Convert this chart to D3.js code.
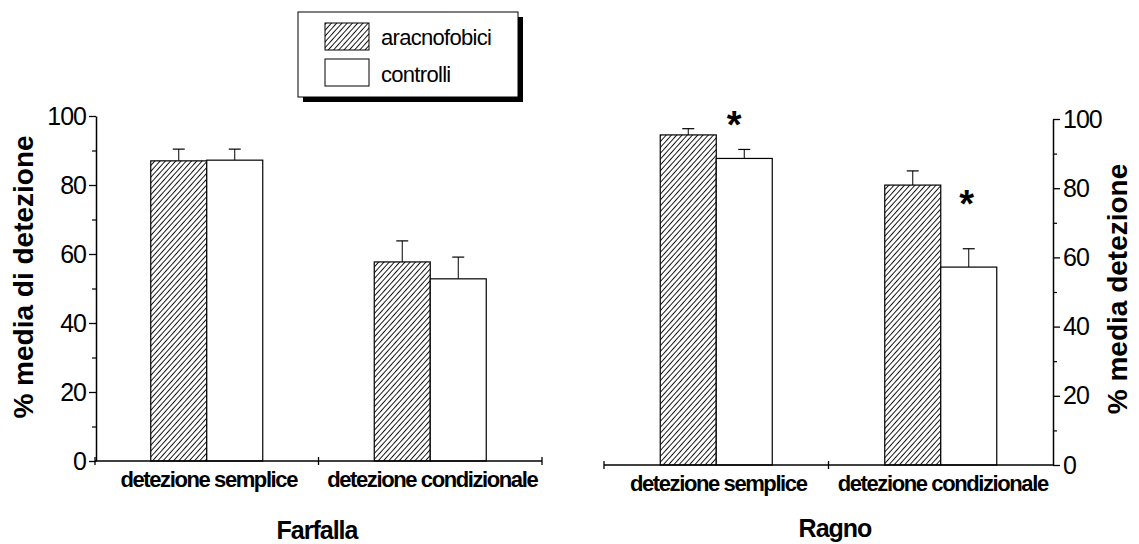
<!DOCTYPE html>
<html>
<head>
<meta charset="utf-8">
<script src="https://cdn.jsdelivr.net/npm/d3@7"></script>
<style>
  html, body { margin: 0; padding: 0; background: #fff; }
  svg { display: block; font-family: "Liberation Sans", Arial, sans-serif; }
</style>
</head>
<body>
<svg id="chart" width="1139" height="544"></svg>
<script>
// ---- data ----
const categories = ["detezione semplice", "detezione condizionale"];
const series = ["aracnofobici", "controlli"];
const farfallaMeans = [[87.0, 87.2], [57.7, 52.8]];   // [category][series]
const farfallaErrors = [[3.4, 3.2], [6.1, 6.3]];
const ragnoMeans = [[95.4, 88.6], [80.9, 57.2]];
const ragnoErrors = [[1.8, 2.6], [4.1, 5.3]];
const ragnoStars = [101, 78];          // value height of the "*" markers (per category)
const yTicks = [0, 20, 40, 60, 80, 100];
const yMinorTicks = [10, 30, 50, 70, 90];
const panelTitles = ["Farfalla", "Ragno"];
const yLabels = ["% media di detezione", "% media detezione"];

const svg = d3.select("#chart");
svg.append("rect").attr("width", 1139).attr("height", 544).attr("fill", "#fff");

// hatch pattern
const defs = svg.append("defs");
const hs = 3.9;
const pat = defs.append("pattern")
  .attr("id", "hatch").attr("patternUnits", "userSpaceOnUse")
  .attr("width", hs).attr("height", hs)
  .attr("patternTransform", "rotate(42)");
pat.append("rect").attr("width", hs).attr("height", hs).attr("fill", "#fff");
pat.append("line").attr("x1", 0.5).attr("y1", 0).attr("x2", 0.5).attr("y2", hs)
  .attr("stroke", "#000").attr("stroke-width", 0.9);

const fills = { aracnofobici: "url(#hatch)", controlli: "#fff" };
const barW = 56;

function drawPanel(cfg) {
  const g = svg.append("g");
  const y = d3.scaleLinear().domain([0, 100]).range([cfg.y0, cfg.y100]);
  const x = d3.scaleBand().domain(categories).range([cfg.xl, cfg.xr]);
  const xs = d3.scaleBand().domain(series).range([-barW, barW]);

  // bars
  categories.forEach((c, ci) => {
    const cx = x(c) + x.bandwidth() / 2;
    series.forEach((s, si) => {
      const v = cfg.means[ci][si], e = cfg.errors[ci][si];
      const bx = cx + xs(s);
      const bc = bx + xs.bandwidth() / 2;
      // error bar
      g.append("line").attr("x1", bc).attr("x2", bc)
        .attr("y1", y(v)).attr("y2", y(v + e))
        .attr("stroke", "#000").attr("stroke-width", 1);
      g.append("line").attr("x1", bc - 6).attr("x2", bc + 6)
        .attr("y1", y(v + e)).attr("y2", y(v + e))
        .attr("stroke", "#000").attr("stroke-width", 1.2);
      g.append("rect")
        .attr("x", bx).attr("y", y(v))
        .attr("width", xs.bandwidth()).attr("height", y(0) - y(v))
        .attr("fill", fills[s]).attr("stroke", "#000").attr("stroke-width", 1.2);
    });
    // category label
    g.append("text")
      .attr("x", cx + 2).attr("y", cfg.catY)
      .attr("text-anchor", "middle")
      .attr("font-size", 22).attr("font-weight", "bold")
      .attr("letter-spacing", "-1.4px")
      .text(c);
  });

  // stars
  if (cfg.stars) {
    categories.forEach((c, ci) => {
      const cx = x(c) + x.bandwidth() / 2 + xs("controlli") + xs.bandwidth() / 2 + cfg.starDx[ci];
      g.append("text").attr("x", cx).attr("y", y(cfg.stars[ci]) + 22)
        .attr("text-anchor", "middle").attr("font-size", 38).attr("font-weight", "bold")
        .text("*");
    });
  }

  // x axis
  const xAxisY = y(0);
  g.append("line").attr("x1", cfg.xl).attr("x2", cfg.xr)
    .attr("y1", xAxisY).attr("y2", xAxisY)
    .attr("stroke", "#000").attr("stroke-width", 1.5);
  const bounds = categories.map(c => x(c)).concat([x.range()[1]]);
  bounds.forEach((b, i) => {
    if (cfg.side === "right" && i === bounds.length - 1) return;
    g.append("line").attr("x1", b).attr("x2", b).attr("y1", xAxisY - 4).attr("y2", xAxisY + 4)
      .attr("stroke", "#000").attr("stroke-width", 1.3);
  });

  // y axis
  const axisX = cfg.side === "left" ? cfg.xl + 1 : cfg.xr;
  const axisGen = (cfg.side === "left" ? d3.axisLeft(y) : d3.axisRight(y))
    .tickValues(yTicks).tickSize(7).tickSizeOuter(0).tickPadding(3).tickFormat(d3.format("d"));
  const ax = g.append("g").attr("transform", `translate(${axisX},0)`).call(axisGen);
  ax.select(".domain").attr("stroke-width", 1.5);
  ax.selectAll(".tick line").attr("stroke-width", 1.3);
  ax.selectAll(".tick text").attr("font-size", 25).attr("font-family", "Liberation Sans, Arial, sans-serif")
    .attr("letter-spacing", "-1px").attr("fill", "#000");
  const minor = (cfg.side === "left" ? d3.axisLeft(y) : d3.axisRight(y))
    .tickValues(yMinorTicks).tickSize(4).tickSizeOuter(0).tickFormat("");
  const mx = g.append("g").attr("transform", `translate(${axisX},0)`).call(minor);
  mx.select(".domain").remove();
  mx.selectAll(".tick line").attr("stroke-width", 1.2);

  // y label
  g.append("text")
    .attr("transform", `translate(${cfg.yLabX},${cfg.yLabY}) rotate(-90)`)
    .attr("text-anchor", "middle").attr("font-size", 28).attr("font-weight", "bold")
    .text(cfg.yLabel);

  // title
  g.append("text").attr("x", cfg.titleX).attr("y", cfg.titleY)
    .attr("text-anchor", "middle").attr("font-size", 25).attr("font-weight", "bold")
    .attr("letter-spacing", "-1px")
    .text(cfg.title);
}

drawPanel({
  side: "left", xl: 95, xr: 542, y0: 461, y100: 116,
  means: farfallaMeans, errors: farfallaErrors,
  catY: 487, yLabX: 33, yLabY: 277, yLabel: yLabels[0],
  title: panelTitles[0], titleX: 317, titleY: 539
});
drawPanel({
  side: "right", xl: 604, xr: 1053, y0: 465, y100: 119,
  means: ragnoMeans, errors: ragnoErrors, stars: ragnoStars, starDx: [-10, -2],
  catY: 491, yLabX: 1127, yLabY: 289, yLabel: yLabels[1],
  title: panelTitles[1], titleX: 835, titleY: 537
});

// legend
const lg = svg.append("g");
lg.append("rect").attr("x", 303).attr("y", 17).attr("width", 220).attr("height", 85).attr("fill", "#000");
lg.append("rect").attr("x", 298).attr("y", 12).attr("width", 220).attr("height", 85)
  .attr("fill", "#fff").attr("stroke", "#000").attr("stroke-width", 1);
series.forEach((s, i) => {
  lg.append("rect").attr("x", 325).attr("y", 23 + i * 36).attr("width", 44).attr("height", 27)
    .attr("fill", fills[s]).attr("stroke", "#000").attr("stroke-width", 1);
  lg.append("text").attr("x", 381).attr("y", 45 + i * 37)
    .attr("font-size", 22).attr("letter-spacing", "-0.7px").text(s);
});
</script>
</body>
</html>
